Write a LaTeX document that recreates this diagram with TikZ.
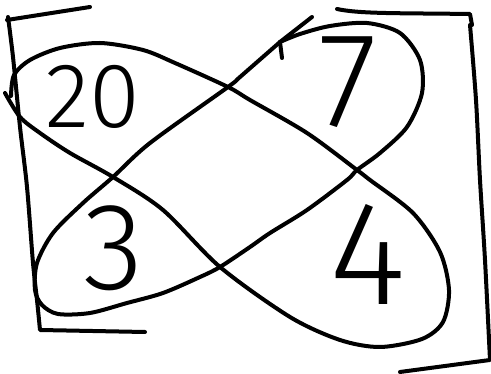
\documentclass[tikz,border=0pt]{standalone}
\usepackage{fontspec}
\newfontfamily\hand{Fira Sans Light}
\begin{document}
\begin{tikzpicture}[x=1pt,y=-1pt,
  stroke/.style={line width=4pt,line cap=round,line join=round},
  digit/.style={inner sep=0pt,font=\hand\fontsize{#1}{#1}\selectfont}]
\useasboundingbox (0,0) rectangle (491,374);
% left bracket
\draw[stroke] (90,7) -- (7,20);
\draw[stroke] plot[smooth] coordinates {(8,17) (13,57) (20,127) (27,187) (33,263) (37,300) (40,330)} -- (145,332);
% right bracket
\draw[stroke] (337,9) .. controls (360,14) and (400,13) .. (470,14) -- (472,25);
\draw[stroke] plot[smooth] coordinates {(470,25) (476,100) (480,180) (485,260) (490,360)} -- (400,372);
% loop from top-left to bottom-right
\draw[stroke] plot[smooth] coordinates {(5,93) (20,117) (40,133) (70,153) (113,177) (163,210) (220,267) (290,317) (340,340) (380,347) (422,339) (443,322) (449,290) (440,252) (413,213) (370,180) (357,170) (307,133) (250,100) (228,87) (175,63) (143,50) (100,43) (60,48) (30,60) (14,75) (11,96)};
% loop from bottom-left to top-right
\draw[stroke] plot[smooth] coordinates {(280,42) (240,77) (228,87) (150,143) (113,177) (83,203) (53,233) (37,263) (35,290) (42,305) (58,314) (90,313) (127,303) (163,293) (200,277) (220,267) (250,247) (270,233) (307,210) (347,180) (357,170) (380,153) (407,127) (422,93) (420,60) (400,33) (367,23) (330,26) (300,34) (280,42)};
\draw[stroke] (280,42) -- (312,17);
\draw[stroke] (280,42) -- (282,58);
% labels
\node[digit=92] (n20) at (93,97) {20};
\node[digit=135] (n7) at (348,82) {7};
\node[digit=124] (n3) at (114,248) {3};
\node[digit=148] (n4) at (368,254) {4};
\end{tikzpicture}
\end{document}
